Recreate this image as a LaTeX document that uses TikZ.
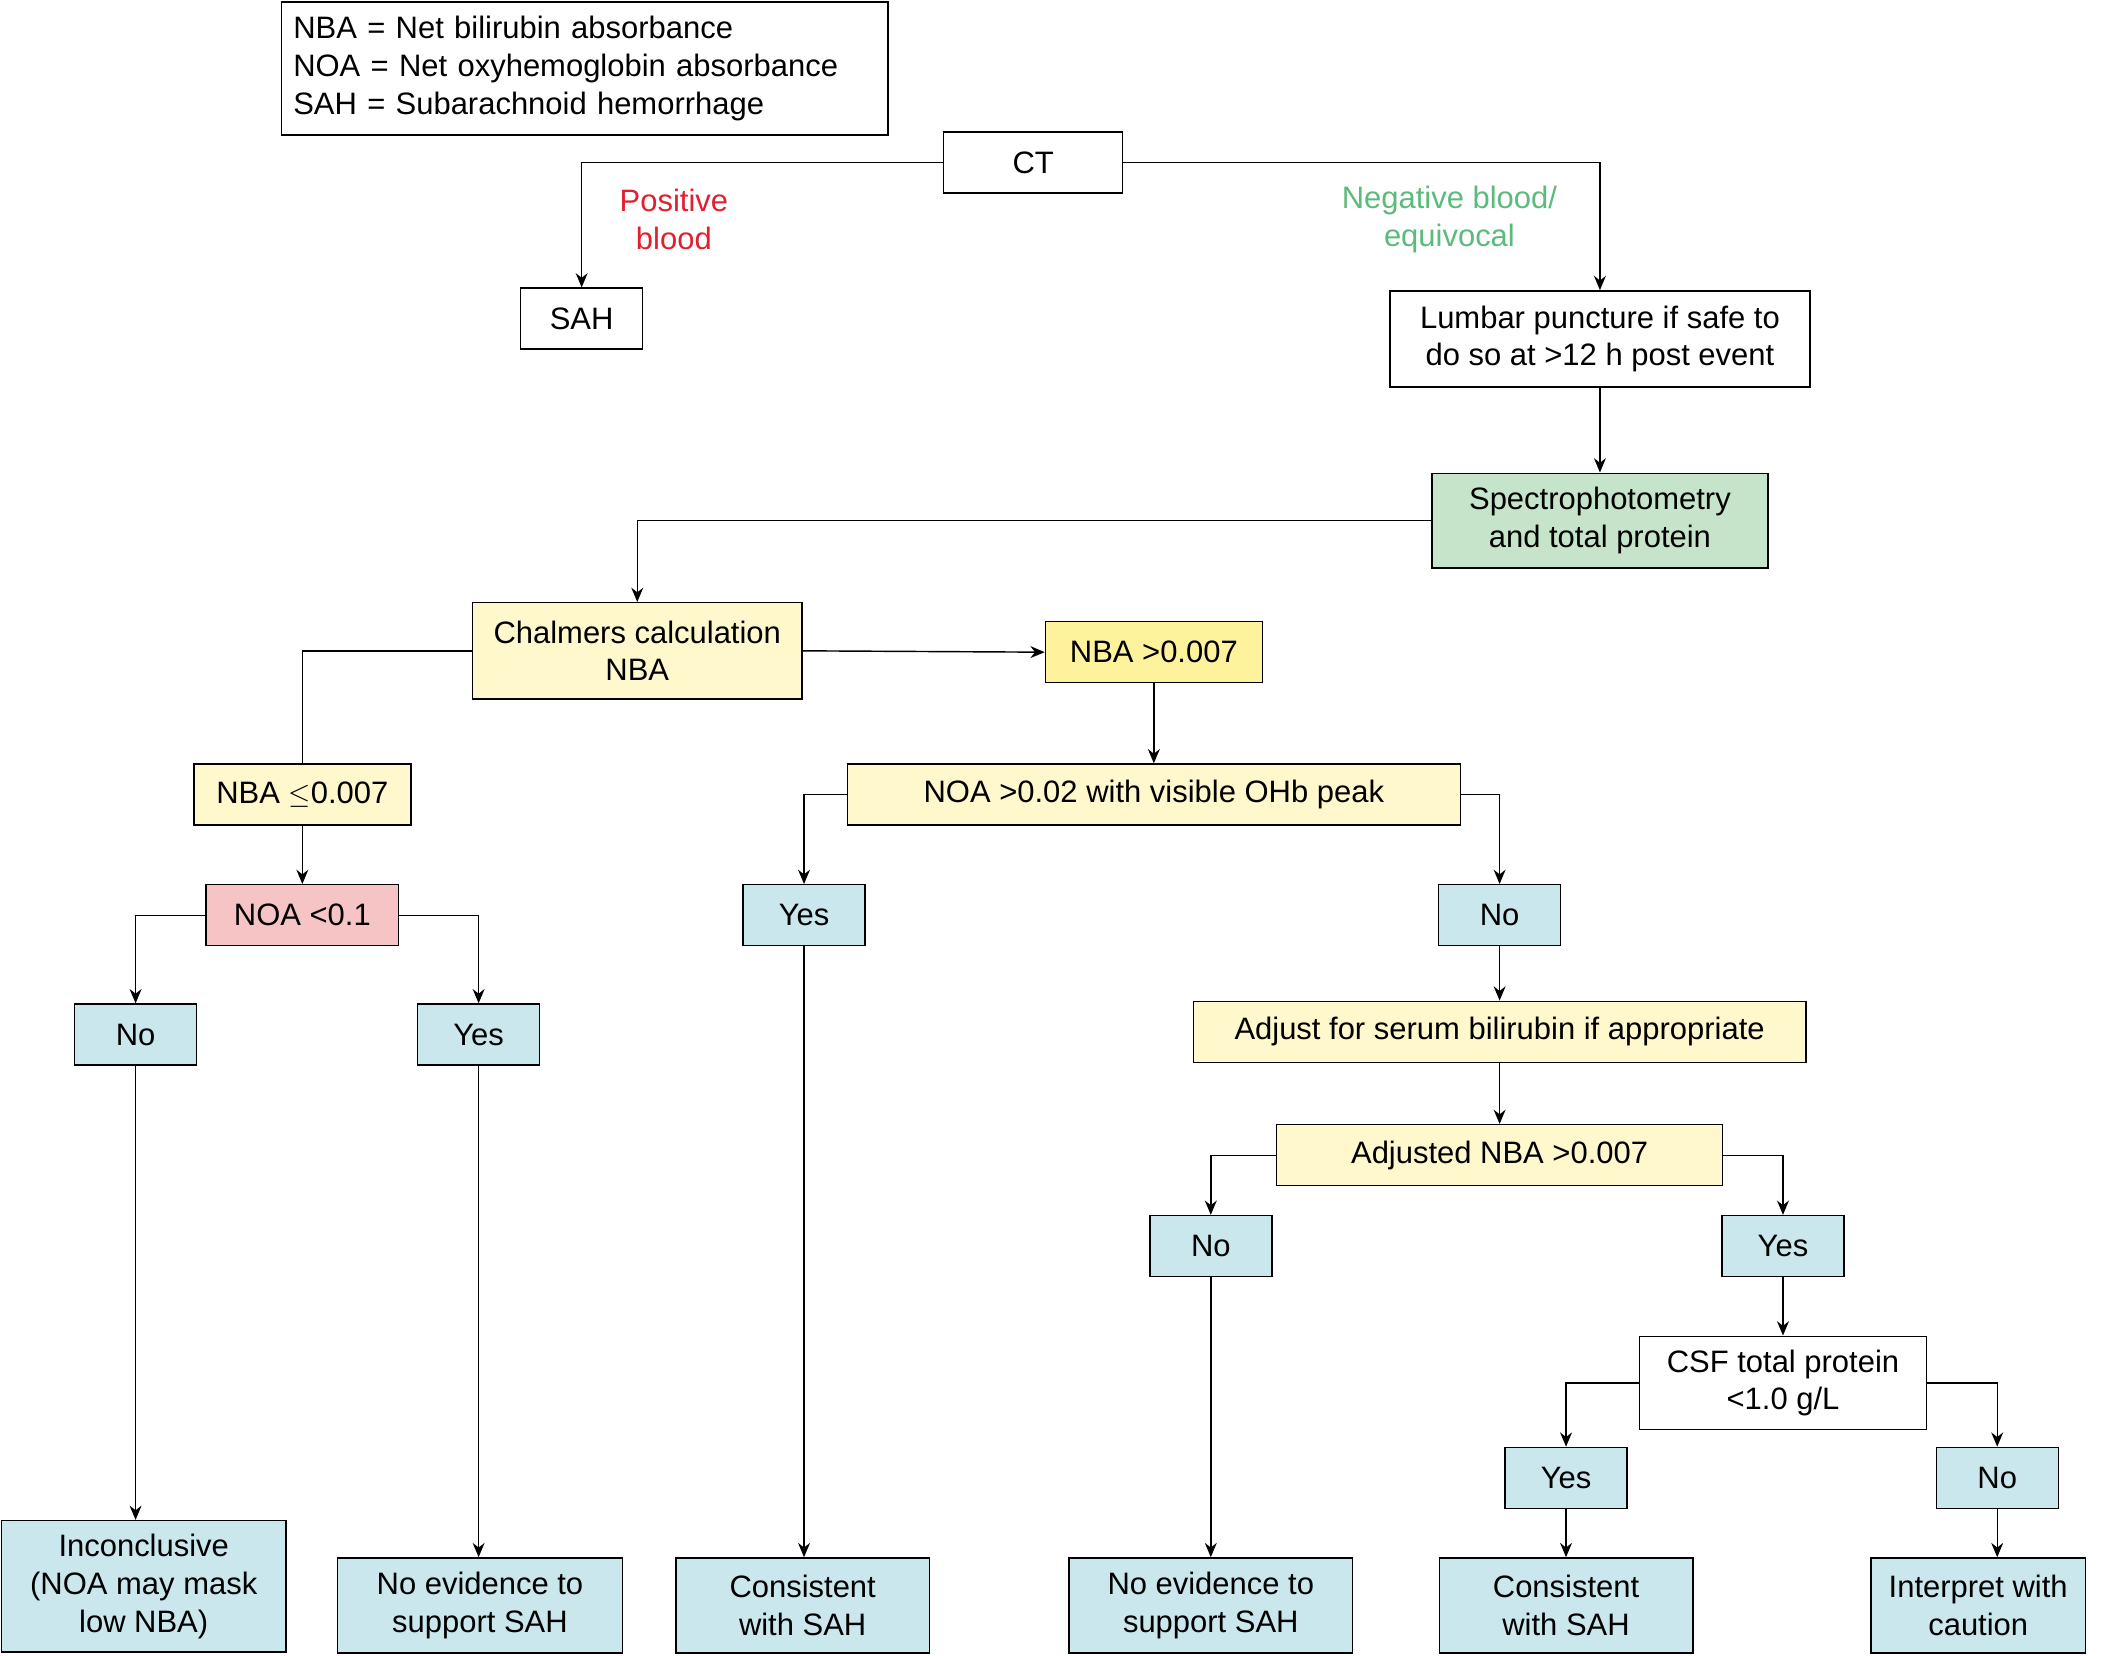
\documentclass[tikz,border=0pt]{standalone}
\usepackage{fontspec}
\setmainfont{Liberation Sans}
\usetikzlibrary{arrows.meta}
\definecolor{cblue}{HTML}{C9E7EC}
\definecolor{cyel}{HTML}{FFF8CC}
\definecolor{cyel2}{HTML}{FEF39C}
\definecolor{cpink}{HTML}{F6C4C4}
\definecolor{cgreen}{HTML}{C6E4C9}
\definecolor{tred}{HTML}{E0202F}
\definecolor{tgreen}{HTML}{5CBB7C}
\begin{document}
\begin{tikzpicture}[x=0.02cm,y=-0.02cm,
  every node/.style={font=\fontsize{13}{15.8}\selectfont},
  box/.style={draw,line width=0.6pt,inner sep=0pt,align=center,minimum height=0.9cm},
  ar/.style={line width=0.6pt,-{Stealth[length=6pt,width=5pt]}},
  ln/.style={line width=0.6pt}]
\useasboundingbox (0,0) rectangle (1568,1221);
\node[box,align=left,minimum width=8.88cm,minimum height=1.96cm,anchor=north west,inner sep=5pt,text width=8.6cm] (leg) at (207,1) {NBA = Net bilirubin absorbance\\NOA = Net oxyhemoglobin absorbance\\SAH = Subarachnoid hemorrhage};
\node[box,minimum width=2.64cm] (ct) at (762,120) {CT};
\node[box,minimum width=1.8cm] (sah) at (429,235) {SAH};
\node[text=tred,align=center] (pos) at (497,162) {Positive\\blood};
\node[text=tgreen,align=center] (neg) at (1069,162) {Negative blood/\\equivocal};
\node[box,minimum width=6.2cm,minimum height=1.42cm] (lp) at (1180,250) {Lumbar puncture if safe to\\do so at >12 h post event};
\node[box,fill=cgreen,minimum width=4.96cm,minimum height=1.4cm] (sp) at (1180,384) {Spectrophotometry\\and total protein};
\node[box,fill=cyel,minimum width=4.86cm,minimum height=1.42cm] (ch) at (470,480) {Chalmers calculation\\NBA};
\node[box,fill=cyel2,minimum width=3.2cm] (nbg) at (851,481) {NBA >0.007};
\node[box,fill=cyel,minimum width=3.2cm] (nbl) at (223,586) {NBA $\leq$0.007};
\node[box,fill=cyel,minimum width=9.04cm] (noa) at (851,586) {NOA >0.02 with visible OHb peak};
\node[box,fill=cpink,minimum width=2.84cm] (noal) at (223,675) {NOA <0.1};
\node[box,fill=cblue,minimum width=1.8cm] (y1) at (593,675) {Yes};
\node[box,fill=cblue,minimum width=1.8cm] (n1) at (1106,675) {No};
\node[box,fill=cblue,minimum width=1.8cm] (n2) at (100,763) {No};
\node[box,fill=cblue,minimum width=1.8cm] (y2) at (353,763) {Yes};
\node[box,fill=cyel,minimum width=9.04cm] (adj) at (1106,761) {Adjust for serum bilirubin if appropriate};
\node[box,fill=cyel,minimum width=6.58cm] (anb) at (1106,852) {Adjusted NBA >0.007};
\node[box,fill=cblue,minimum width=1.8cm] (n3) at (893,919) {No};
\node[box,fill=cblue,minimum width=1.8cm] (y3) at (1315,919) {Yes};
\node[box,minimum width=4.24cm,minimum height=1.38cm] (csf) at (1315,1020) {CSF total protein\\<1.0 g/L};
\node[box,fill=cblue,minimum width=1.8cm] (y4) at (1155,1090) {Yes};
\node[box,fill=cblue,minimum width=1.8cm] (n4) at (1473,1090) {No};
\node[box,fill=cblue,minimum width=4.2cm,minimum height=1.94cm] (b1) at (106,1170) {Inconclusive\\(NOA may mask\\low NBA)};
\node[box,fill=cblue,minimum width=4.2cm,minimum height=1.4cm] (b2) at (354,1184) {No evidence to\\support SAH};
\node[box,fill=cblue,minimum width=3.74cm,minimum height=1.4cm] (b3) at (592,1184) {Consistent\\with SAH};
\node[box,fill=cblue,minimum width=4.18cm,minimum height=1.4cm] (b4) at (893,1184) {No evidence to\\support SAH};
\node[box,fill=cblue,minimum width=3.74cm,minimum height=1.4cm] (b5) at (1155,1184) {Consistent\\with SAH};
\node[box,fill=cblue,minimum width=3.16cm,minimum height=1.4cm] (b6) at (1459,1184) {Interpret with\\caution};
\draw[ar] (ct.west) -| (sah.north);
\draw[ar] (ct.east) -| (lp.north);
\draw[ar] (lp) -- (sp);
\draw[ar] (sp.west) -| (ch.north);
\draw[ar] (ch.east) -- (nbg.west);
\draw[ln] (ch.west) -| (nbl.north);
\draw[ar] (nbl) -- (noal);
\draw[ar] (noal.west) -| (n2.north);
\draw[ar] (noal.east) -| (y2.north);
\draw[ar] (nbg) -- (noa);
\draw[ar] (noa.west) -| (y1.north);
\draw[ar] (noa.east) -| (n1.north);
\draw[ar] (n1) -- (adj);
\draw[ar] (adj) -- (anb);
\draw[ar] (anb.west) -| (n3.north);
\draw[ar] (anb.east) -| (y3.north);
\draw[ar] (y3) -- (csf);
\draw[ar] (csf.west) -| (y4.north);
\draw[ar] (csf.east) -| (n4.north);
\draw[ar] (n2.south) -- (n2.south |- b1.north);
\draw[ar] (y2.south) -- (y2.south |- b2.north);
\draw[ar] (y1.south) -- (y1.south |- b3.north);
\draw[ar] (n3.south) -- (n3.south |- b4.north);
\draw[ar] (y4.south) -- (y4.south |- b5.north);
\draw[ar] (n4.south) -- (n4.south |- b6.north);
\end{tikzpicture}
\end{document}
